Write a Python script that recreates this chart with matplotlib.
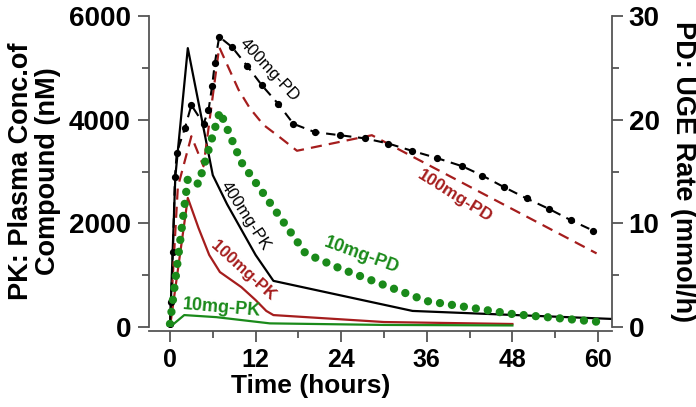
import matplotlib
matplotlib.use("Agg")
import matplotlib.pyplot as plt
from matplotlib.ticker import MultipleLocator

plt.rcParams['font.family'] = ['Liberation Sans', 'DejaVu Sans']
plt.rcParams['font.weight'] = 'bold'

RED = '#a51d1d'
GREEN = '#1a8a1a'
AXC = '#555555'

# PK data (left axis, nM)
t_pk400 = [0, 0.75, 2.5, 6, 8, 12, 14.5, 34, 72]
pk400 = [0, 2900, 5380, 2930, 2370, 1390, 890, 310, 100]

t_pk100 = [0, 2.5, 4, 5.5, 7, 10, 12, 13.5, 14.5, 30, 48]
pk100 = [0, 2490, 1910, 1390, 1060, 770, 520, 310, 230, 96, 58]

t_pk10 = [0, 2, 6.5, 14, 30, 48]
pk10 = [0, 230, 190, 70, 40, 30]

# PD data (right axis, mmol/h)
t_pd400 = [0, 0.15, 0.4, 0.7, 0.95, 2.1, 3.0, 4.7, 5.4, 5.9, 6.3, 6.9, 8.7, 10.8,
           12.9, 15.2, 17.3, 20.3, 23.8, 27.3, 30.6, 33.9, 37.4, 41.0, 43.8, 46.8,
           50.0, 53.1, 56.2, 59.3]
pd400 = [0.3, 2.4, 7.2, 14.5, 16.8, 19.2, 21.4, 19.6, 20.9, 23.2, 25.5, 28.0, 27.0, 25.2,
         23.3, 21.5, 19.6, 18.8, 18.5, 18.2, 17.7, 17.0, 16.3, 15.5, 14.6, 13.5,
         12.4, 11.4, 10.3, 9.3]

t_pd100 = [0, 1.1, 3.0, 4.7, 6.9, 9.6, 11.2, 13.1, 15.4, 17.8, 28.3, 59.8]
pd100 = [0, 13.5, 18.4, 15.5, 27.0, 22.9, 21.1, 19.5, 18.3, 17.0, 18.5, 7.1]

t_pd10 = [0, 2.5, 4, 7, 10, 19, 24, 36, 48, 60]
pd10 = [0.3, 14.3, 13.8, 20.8, 15.9, 7.1, 5.6, 2.5, 1.25, 0.5]

x_ticks = [0, 12, 24, 36, 48, 60]
pk_ticks = [0, 2000, 4000, 6000]
pd_ticks = [0, 10, 20, 30]

fig = plt.figure(figsize=(6.96, 4.07), dpi=100)
ax = fig.add_axes([149 / 696, 80 / 407, 463 / 696, 311 / 407])
ax2 = ax.twinx()

# PK curves
ax.plot(t_pk400, pk400, color='black', lw=1.6)
ax.plot(t_pk100, pk100, color=RED, lw=1.6)
ax.plot(t_pk10, pk10, color=GREEN, lw=1.6)

# PD curves
ax2.plot(t_pd100, pd100, color=RED, lw=1.6, linestyle=(0, (5, 3.2)))
ax2.plot(t_pd400, pd400, color='black', lw=1.5, linestyle=(0, (4.5, 3.2)),
         marker='o', markersize=4.2)
ax2.plot(t_pd10, pd10, color=GREEN, lw=6, linestyle=(0, (0.001, 1.45)),
         dash_capstyle='round')

# curve labels
ax2.text(13.9, 24.8, '400mg-PD', color='black', fontsize=12, fontweight='normal',
         rotation=-47, ha='center', va='center')
ax.text(10.6, 2150, '400mg-PK', color='black', fontsize=12, fontweight='normal',
        rotation=-57, ha='center', va='center')
ax.text(10.3, 1080, '100mg-PK', color=RED, fontsize=12,
        rotation=-42, ha='center', va='center')
ax.text(7.3, 370, '10mg-PK', color=GREEN, fontsize=13,
        rotation=-5, ha='center', va='center')
ax2.text(26.9, 6.95, '10mg-PD', color=GREEN, fontsize=13,
         rotation=-20, ha='center', va='center')
ax2.text(40.0, 12.6, '100mg-PD', color=RED, fontsize=12.5,
         rotation=-32, ha='center', va='center')

# axes limits and ticks
ax.set_xlim(-2.94, 61.96)
ax.set_ylim(0, 6000)
ax2.set_ylim(0, 30)
ax.set_xticks(x_ticks)
ax.set_yticks(pk_ticks)
ax2.set_yticks(pd_ticks)
ax.xaxis.set_minor_locator(MultipleLocator(6))
ax.yaxis.set_minor_locator(MultipleLocator(1000))
ax2.yaxis.set_minor_locator(MultipleLocator(5))

for a in (ax, ax2):
    for s in a.spines.values():
        s.set_visible(False)
        s.set_color(AXC)
        s.set_linewidth(1.3)
ax.spines['left'].set_visible(True)
ax.spines['bottom'].set_visible(True)
ax.spines['bottom'].set_position(('outward', 3))
ax2.spines['right'].set_visible(True)

ax.tick_params(axis='x', which='major', length=8, width=1.3, color=AXC, labelsize=18, pad=4)
ax.tick_params(axis='y', which='major', length=8, width=1.3, color=AXC, labelsize=20, pad=5)
ax.tick_params(which='minor', length=5, width=1.3, color=AXC)
ax2.tick_params(axis='y', which='major', length=8, width=1.3, color=AXC, labelsize=20, pad=4)
ax2.tick_params(which='minor', length=5, width=1.3, color=AXC)

ax.set_xlabel('Time (hours)', fontsize=19, fontweight='bold')
ax.xaxis.set_label_coords(0.35, -0.15)
ax.set_ylabel('PK: Plasma Conc.of\nCompound (nM)', fontsize=19.5, fontweight='bold',
              linespacing=1.05)
ax.yaxis.set_label_coords(-0.19, 0.5)
ax2.set_ylabel('PD: UGE Rate (mmol/h)', fontsize=19.5, fontweight='bold',
               rotation=270, va='bottom')
ax2.yaxis.set_label_coords(1.125, 0.5)

fig.savefig('out.png', dpi=100)
